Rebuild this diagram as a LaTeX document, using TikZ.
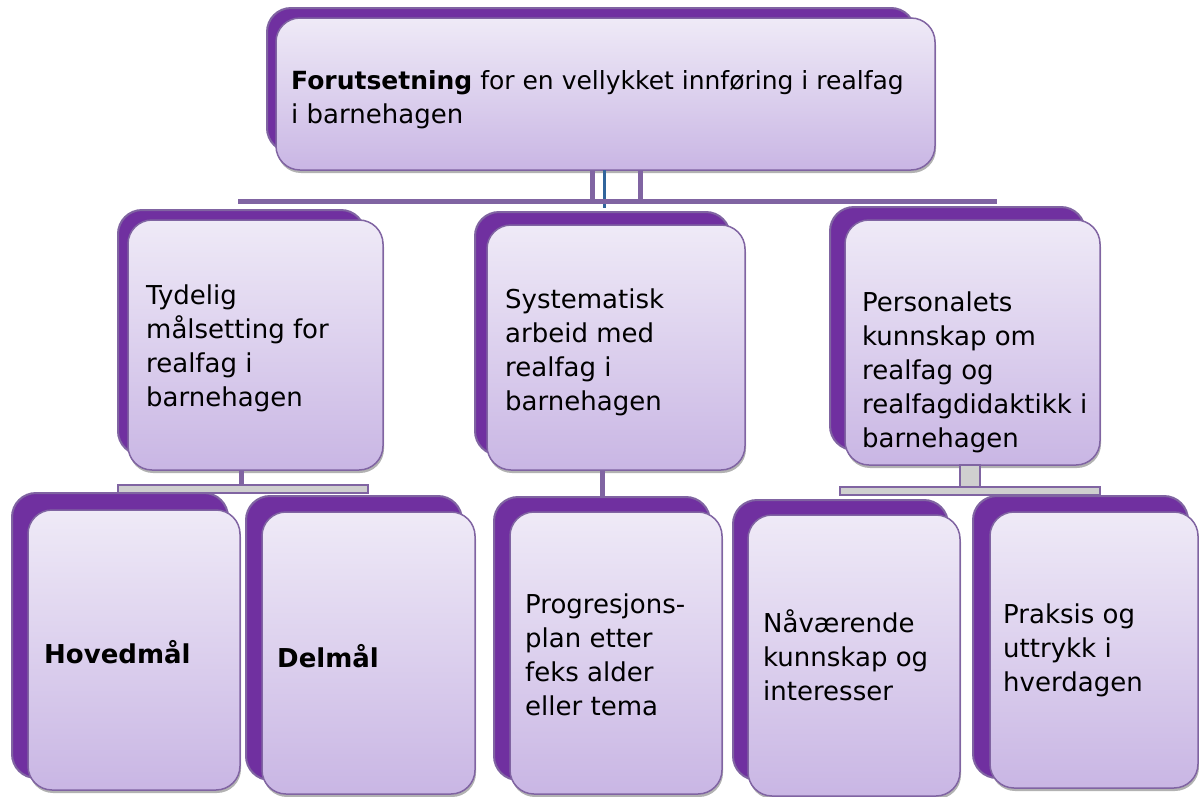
\documentclass[tikz,border=0pt]{standalone}
\usepackage{fontspec}
\setmainfont{DejaVu Sans}
\usetikzlibrary{fit,shadows}
\definecolor{backfill}{HTML}{7030A0}
\definecolor{edge}{HTML}{8064A2}
\definecolor{ftop}{HTML}{EFEAF7}
\definecolor{fbot}{HTML}{C9B6E4}
\definecolor{connfill}{HTML}{CFCFCF}
\definecolor{blueline}{HTML}{31659C}
\tikzset{
 backbox/.style={draw=edge, line width=2pt, fill=backfill, rounded corners=24pt, inner sep=0pt, outer sep=0pt},
 frontbox/.style={draw=edge, line width=1.5pt, top color=ftop, bottom color=fbot, rounded corners=24pt, inner sep=0pt, outer sep=0pt,
   drop shadow={shadow xshift=1pt, shadow yshift=-3pt, opacity=0.3, fill=black}},
 lbl/.style={font=\fontsize{26}{34}\selectfont, align=left, anchor=west, inner sep=0pt, text=black},
 conn/.style={draw=edge, line width=2pt, fill=connfill},
 connline/.style={draw=edge, line width=5pt},
 blue connector/.style={draw=blueline, line width=3pt},
}
\newcommand{\pbox}[9]{%
  \node[backbox, fit={(#6,#7)(#8,#9)}] (#1b) {};
  \node[frontbox, fit={(#2,#3)(#4,#5)}] (#1) {};
}
\begin{document}
\begin{tikzpicture}[x=1pt,y=-1pt]
\useasboundingbox[fill=white] (0,0) rectangle (1199,796);

% boxes
\pbox{top}{276}{18}{935}{170}{267}{8}{915}{152}
\pbox{ma}{128}{220}{383}{470}{118}{210}{365}{455}
\pbox{mb}{487}{225}{745}{470}{475}{212}{730}{455}
\pbox{mc}{845}{220}{1100}{465}{830}{207}{1085}{450}
\pbox{ba}{28}{510}{240}{790}{12}{493}{228}{778}
\pbox{bb}{262}{512}{475}{794}{246}{496}{462}{780}
\pbox{bc}{510}{512}{722}{794}{494}{497}{710}{780}
\pbox{bd}{748}{515}{960}{796}{733}{500}{948}{780}
\pbox{be}{990}{512}{1198}{788}{973}{496}{1188}{778}

% top connectors
\coordinate (hl) at (238,201);
\coordinate (hr) at (997,201);
\draw[connline] ([xshift=-13.5]top.south) -- ([xshift=-13.5]top.south |- hl);
\draw[connline] ([xshift=34.5]top.south) -- ([xshift=34.5]top.south |- hl);
\draw[blue connector] ([xshift=-1.5]top.south) -- ([xshift=-1.5,yshift=-7]top.south |- hl);
\draw[connline] (hl) -- (hr);

% left group connector
\draw[connline] (mab.south |- ma.south) -- ++(0,15);
\draw[conn] (118,485) coordinate (lb) rectangle (368,493) coordinate (lc);

% middle connector
\draw[connline] ([xshift=-14]mb.south) -- ([xshift=-14]mb.south |- bcb.north);

% right group connector
\draw[conn] ([xshift=-12.5]mc.south) coordinate (rc1) rectangle ([xshift=7.5,yshift=-22]mc.south) coordinate (rc2);
\draw[conn] (840,487) coordinate (rb) rectangle (1100,495) coordinate (rd);

% labels
\node[lbl, anchor=west] (ttop) at ([xshift=15,yshift=-6]top.west)
  {\fontsize{25}{34}\selectfont\textbf{Forutsetning} for en vellykket innføring i realfag\\i barnehagen};
\node[lbl] (tma) at ([xshift=18,yshift=-3]ma.west) {Tydelig\\målsetting for\\realfag i\\barnehagen};
\node[lbl] (tmb) at ([xshift=18,yshift=-5]mb.west) {Systematisk\\arbeid med\\realfag i\\barnehagen};
\node[lbl] (tmc) at ([xshift=17,yshift=-30]mc.west) {Personalets\\kunnskap om\\realfag og\\realfagdidaktikk i\\barnehagen};
\node[lbl] (tba) at ([xshift=16,yshift=-2]ba.west) {\textbf{Hovedmål}};
\node[lbl] (tbb) at ([xshift=15,yshift=-3]bb.west) {\textbf{Delmål}};
\node[lbl] (tbc) at ([xshift=15,yshift=-2]bc.west) {Progresjons-\\plan etter\\feks alder\\eller tema};
\node[lbl] (tbd) at ([xshift=15]bd.west) {Nåværende\\kunnskap og\\interesser};
\node[lbl] (tbe) at ([xshift=13]be.west) {Praksis og\\uttrykk i\\hverdagen};
\end{tikzpicture}
\end{document}
